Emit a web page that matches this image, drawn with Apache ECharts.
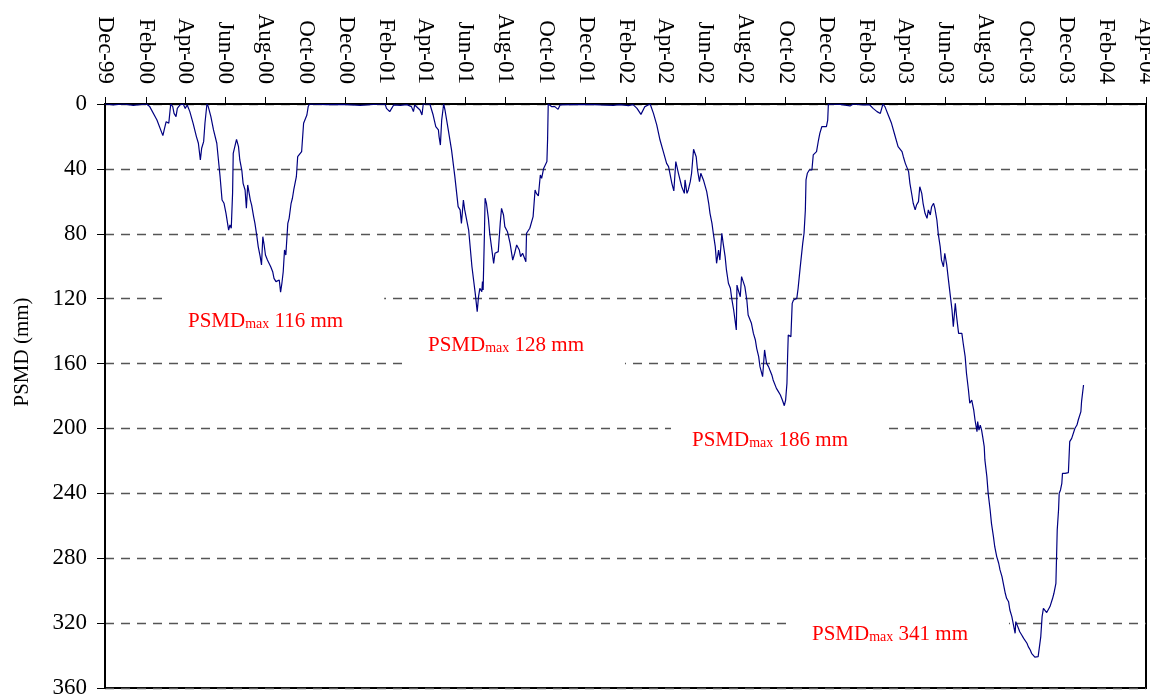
<!DOCTYPE html>
<html><head><meta charset="utf-8">
<script src="https://cdn.jsdelivr.net/npm/echarts@6/dist/echarts.min.js"></script>
<style>html,body{margin:0;padding:0;background:#fff}#c{width:1150px;height:699px}</style>
</head><body><div id="c"></div>
<script>
const dates = [
'1999-12-01','1999-12-14','1999-12-29','2000-01-13','2000-01-26','2000-02-02','2000-02-07','2000-02-18','2000-02-27','2000-02-29',
'2000-03-03','2000-03-05','2000-03-07','2000-03-09','2000-03-10','2000-03-13','2000-03-15','2000-03-18','2000-03-20','2000-03-24',
'2000-03-29','2000-04-01','2000-04-04','2000-04-08','2000-04-13','2000-04-18','2000-04-21','2000-04-24','2000-04-26','2000-04-29',
'2000-05-01','2000-05-04','2000-05-06','2000-05-10','2000-05-14','2000-05-19','2000-05-21','2000-05-24','2000-05-27','2000-05-30',
'2000-06-02','2000-06-06','2000-06-08','2000-06-10','2000-06-12','2000-06-13','2000-06-16','2000-06-18','2000-06-21','2000-06-23',
'2000-06-26','2000-06-28','2000-07-01','2000-07-03','2000-07-05','2000-07-07','2000-07-09','2000-07-11','2000-07-14','2000-07-16',
'2000-07-19','2000-07-21','2000-07-24','2000-07-26','2000-07-28','2000-07-30','2000-08-01','2000-08-04','2000-08-06','2000-08-09',
'2000-08-12','2000-08-14','2000-08-17','2000-08-19','2000-08-22','2000-08-24','2000-08-26','2000-08-28','2000-08-30','2000-09-01',
'2000-09-04','2000-09-06','2000-09-09','2000-09-11','2000-09-13','2000-09-17','2000-09-19','2000-09-22','2000-09-25','2000-09-28',
'2000-09-30','2000-10-03','2000-10-05','2000-10-07','2000-11-02','2000-11-27','2000-12-23','2001-01-12','2001-01-30','2001-02-01',
'2001-02-06','2001-02-12','2001-02-22','2001-03-04','2001-03-11','2001-03-14','2001-03-16','2001-03-24','2001-03-27','2001-03-29',
'2001-04-01','2001-04-08','2001-04-13','2001-04-17','2001-04-21','2001-04-22','2001-04-24','2001-04-26','2001-04-29','2001-05-01',
'2001-05-06','2001-05-11','2001-05-16','2001-05-21','2001-05-24','2001-05-26','2001-05-29','2001-05-31','2001-06-06','2001-06-11',
'2001-06-16','2001-06-19','2001-06-21','2001-06-23','2001-06-26','2001-06-27','2001-06-28','2001-06-30','2001-07-01','2001-07-03',
'2001-07-06','2001-07-08','2001-07-11','2001-07-14','2001-07-16','2001-07-19','2001-07-21','2001-07-24','2001-07-26','2001-07-29',
'2001-07-31','2001-08-02','2001-08-04','2001-08-08','2001-08-12','2001-08-15','2001-08-18','2001-08-22','2001-08-24','2001-08-27',
'2001-08-30','2001-09-01','2001-09-02','2001-09-05','2001-09-07','2001-09-10','2001-09-12','2001-09-15','2001-09-17','2001-09-20',
'2001-09-23','2001-09-25','2001-09-28','2001-09-30','2001-10-03','2001-10-04','2001-10-05','2001-10-10','2001-10-15','2001-10-20',
'2001-10-23','2001-11-12','2001-12-03','2001-12-23','2002-01-12','2002-01-22','2002-02-04','2002-02-11','2002-02-17','2002-02-23',
'2002-03-01','2002-03-09','2002-03-14','2002-03-19','2002-03-24','2002-03-29','2002-04-03','2002-04-06','2002-04-08','2002-04-11',
'2002-04-14','2002-04-17','2002-04-21','2002-04-26','2002-04-30','2002-05-01','2002-05-04','2002-05-06','2002-05-09','2002-05-11',
'2002-05-14','2002-05-18','2002-05-20','2002-05-23','2002-05-25','2002-05-29','2002-06-01','2002-06-03','2002-06-06','2002-06-08',
'2002-06-11','2002-06-13','2002-06-16','2002-06-18','2002-06-21','2002-06-23','2002-06-26','2002-06-28','2002-07-01','2002-07-03',
'2002-07-06','2002-07-09','2002-07-11','2002-07-14','2002-07-18','2002-07-19','2002-07-21','2002-07-24','2002-07-26','2002-07-29',
'2002-07-31','2002-08-03','2002-08-05','2002-08-08','2002-08-10','2002-08-13','2002-08-16','2002-08-18','2002-08-21','2002-08-23',
'2002-08-27','2002-08-30','2002-09-02','2002-09-05','2002-09-07','2002-09-10','2002-09-12','2002-09-15','2002-09-17','2002-09-20',
'2002-09-23','2002-09-26','2002-09-29','2002-10-01','2002-10-03','2002-10-04','2002-10-05','2002-10-08','2002-10-09','2002-10-11',
'2002-10-13','2002-10-15','2002-10-18','2002-10-20','2002-10-23','2002-10-26','2002-10-27','2002-10-29','2002-10-31','2002-11-01',
'2002-11-03','2002-11-06','2002-11-10','2002-11-12','2002-11-15','2002-11-17','2002-11-20','2002-11-22','2002-11-25','2002-11-27',
'2002-12-02','2002-12-04','2002-12-05','2002-12-23','2003-01-07','2003-01-12','2003-01-27','2003-02-06','2003-02-11','2003-02-17',
'2003-02-19','2003-02-22','2003-02-24','2003-02-26','2003-03-01','2003-03-06','2003-03-11','2003-03-16','2003-03-21','2003-03-24',
'2003-03-27','2003-03-29','2003-04-01','2003-04-03','2003-04-06','2003-04-08','2003-04-11','2003-04-13','2003-04-16','2003-04-18',
'2003-04-21','2003-04-23','2003-04-26','2003-04-28','2003-05-01','2003-05-04','2003-05-06','2003-05-09','2003-05-11','2003-05-14',
'2003-05-16','2003-05-19','2003-05-21','2003-05-24','2003-05-26','2003-05-29','2003-05-31','2003-06-03','2003-06-05','2003-06-08',
'2003-06-11','2003-06-13','2003-06-16','2003-06-18','2003-06-21','2003-06-23','2003-06-26','2003-06-28','2003-07-01','2003-07-03',
'2003-07-06','2003-07-08','2003-07-11','2003-07-14','2003-07-16','2003-07-19','2003-07-20','2003-07-22','2003-07-24','2003-07-26',
'2003-07-28','2003-07-30','2003-07-31','2003-08-03','2003-08-05','2003-08-08','2003-08-10','2003-08-13','2003-08-15','2003-08-18',
'2003-08-21','2003-08-23','2003-08-26','2003-08-28','2003-08-31','2003-09-02','2003-09-05','2003-09-07','2003-09-10','2003-09-12',
'2003-09-15','2003-09-16','2003-09-18','2003-09-20','2003-09-22','2003-09-25','2003-09-28','2003-09-30','2003-10-03','2003-10-05',
'2003-10-08','2003-10-10','2003-10-13','2003-10-15','2003-10-18','2003-10-20','2003-10-23','2003-10-24','2003-10-26','2003-10-28',
'2003-10-30','2003-11-02','2003-11-05','2003-11-07','2003-11-10','2003-11-11','2003-11-13','2003-11-15','2003-11-16','2003-11-17',
'2003-11-18','2003-11-20','2003-11-21','2003-11-23','2003-11-25','2003-11-26','2003-11-30','2003-12-05','2003-12-07','2003-12-10',
'2003-12-13','2003-12-15','2003-12-18','2003-12-20','2003-12-23','2003-12-24','2003-12-25','2003-12-28'
];
const psmd = [
0,0.5,0,0.8,0.3,0,1.6,9.9,19.5,16,
10.9,9.9,11.9,3.7,0,1.6,5.8,7.8,2.7,0.6,
0,2.7,0.6,4.7,11.9,20.1,24.2,34.5,27.3,23.2,
11.9,0,1.6,7.8,16,24.2,32.5,44.8,59.2,61.2,
67.4,77.7,74.6,76.6,55.1,30.4,31.4,21.8,26.3,34.5,
40.7,48.9,53,64.3,49.9,49.9,59.2,62.3,69.4,73.6,
81.8,87.9,94.1,99.2,81.8,86.9,93.1,96.2,97.2,100.3,
103.4,107.5,109.5,110.5,108.5,116,110.5,103.4,90,93.1,
73.6,70.5,61.2,58.1,53,44.8,32.5,31.4,29.4,11.9,
10.9,6.8,1.6,0,0.4,0.2,0.8,0.3,0,2.7,
4.7,0.6,0.8,0.4,1.6,4.7,0.6,3.7,6.8,0,
0.6,0,6.8,14,16,20.1,25.3,9.9,0,3.7,
16,28.4,44.8,63.3,65.3,73.6,59.2,65.3,77.7,100.3,
116.7,128,118.8,113.6,115.7,109.5,114.7,79.7,58.1,61.2,
70.5,79.7,89,98.2,92,91,91,73.6,64.3,68.4,
75.6,74.6,78.7,85.9,96.2,92,86.9,90,94.1,92,
95.1,97.2,79.7,78.7,76.6,75.6,69.4,53,55.1,56.7,
43.8,45.8,39.7,38.6,35.5,22.2,0,1.6,1.6,3.3,
0.6,0.4,0.2,0.6,0.8,0.4,1,0.4,2.7,6.4,
1.6,0,5.8,12.9,22.2,29.4,36.6,38.6,39.7,48.9,
53.6,35.5,42.7,51,55.1,46.8,55.1,53,47.9,42.7,
27.9,32.5,40.7,47.9,42.7,46.8,47.9,54,61.2,67.4,
73.6,79.7,87.9,98.2,90,96.2,79.7,85.9,94.1,102.3,
110.5,113.6,119.8,127,139.3,111.6,114.7,118.8,106.4,106.4,
112.6,120.8,130.1,131.1,135.2,141.4,145.5,150.6,155.7,161.9,
168.1,151.6,159.9,161.9,164,167,170.1,171.2,175.3,177.3,
179.4,182.5,186,182.5,172.2,155.7,142.4,143,143.4,122.9,
120.8,120.8,119.8,113.6,101.3,100.3,85.9,79.7,65.3,46.8,
42.7,40.7,40.7,31.4,30.4,29.4,22.2,18.1,14,13.6,
14,9.9,0,0.2,1.2,0,0.6,0.6,2.7,4.7,
5.8,5.8,6.8,0,1.6,6.8,11.9,19.1,26.3,25.3,
29.4,32.5,36.6,37.6,41.7,48.9,56.1,61.2,65.3,62.3,
60.2,51,55.1,61.2,67.4,70.5,65.3,68.4,63.3,61.2,
64.3,71.5,79.7,87.9,96.2,100.3,92,99.2,106.4,116.7,
127,137.3,122.9,131.1,141.4,142.4,141.4,147.5,155.7,166,
176.3,184.5,182.5,188.6,194.8,202,195.8,201,197.9,201,
206,211.2,219.4,229.7,240,250.3,258.5,266.7,272.9,279,
283.1,287.2,291.3,295.5,301.6,304.7,306.8,311.9,316,320.1,
326.3,319.1,321.1,323.2,325.3,327.3,329.4,330.4,332.4,334.5,
336.6,338.6,339.6,341,340.3,340.7,339.6,328.3,316,310.9,
311.9,313.5,312.9,309.8,308.8,304.7,301.6,300.6,295.5,279,
262.6,250.3,240,237.9,233.8,227.7,227.7,227.2,208.1,206.1,
205,199.9,197.9,194.8,194.8,189.6,183.5,173.2
];
const tickDates = ['1999-12-01','2000-02-01','2000-04-01','2000-06-01','2000-08-01','2000-10-01','2000-12-01',
'2001-02-01','2001-04-01','2001-06-01','2001-08-01','2001-10-01','2001-12-01','2002-02-01','2002-04-01',
'2002-06-01','2002-08-01','2002-10-01','2002-12-01','2003-02-01','2003-04-01','2003-06-01','2003-08-01',
'2003-10-01','2003-12-01','2004-02-01','2004-04-01'];
const tickLabels = ['Dec-99','Feb-00','Apr-00','Jun-00','Aug-00','Oct-00','Dec-00','Feb-01','Apr-01','Jun-01',
'Aug-01','Oct-01','Dec-01','Feb-02','Apr-02','Jun-02','Aug-02','Oct-02','Dec-02','Feb-03','Apr-03','Jun-03',
'Aug-03','Oct-03','Dec-03','Feb-04','Apr-04'];
const peakValues = [116, 128, 186, 341];
const yAxisName = 'PSMD (mm)';

const FONT = "'Times New Roman','Liberation Serif',serif";
const toTime = d => echarts.number.parseDate(d).getTime();
const tickTimes = tickDates.map(toTime);
const seriesData = dates.map((d, i) => [toTime(d), psmd[i]]);

// annotation layout (pixel anchors: text left, text centre y)
const annotPos = [[188, 321], [428, 345], [692, 440], [812, 634]];
const padL = 21, padR = 41, padV = 24;

const chart = echarts.init(document.getElementById('c'), null, {renderer: 'canvas'});
chart.setOption({
  animation: false,
  backgroundColor: '#fff',
  grid: {left: 105, right: 4, top: 104, bottom: 11, show: true, borderColor: '#000', borderWidth: 2,
         backgroundColor: 'transparent', containLabel: false, outerBoundsMode: 'none'},
  xAxis: {
    type: 'value', position: 'top', scale: true,
    min: tickTimes[0], max: tickTimes[tickTimes.length - 1],
    axisLine: {show: true, lineStyle: {color: '#000', width: 2}},
    axisTick: {show: true, inside: false, length: 7, customValues: tickTimes, lineStyle: {color: '#000', width: 1}},
    axisLabel: {
      customValues: tickTimes, rotate: -90, margin: 20,
      fontFamily: FONT, fontSize: 23, color: '#000',
      formatter: function (v) {
        let best = 0, bd = Infinity;
        tickTimes.forEach((t, i) => { const dd = Math.abs(t - v); if (dd < bd) { bd = dd; best = i; } });
        return tickLabels[best];
      }
    },
    splitLine: {show: false}
  },
  yAxis: {
    type: 'value', inverse: true, min: 0, max: 360, interval: 40,
    axisLine: {show: true, lineStyle: {color: '#000', width: 2}},
    axisTick: {show: true, inside: false, length: 8, lineStyle: {color: '#000', width: 1}},
    axisLabel: {fontFamily: FONT, fontSize: 23, color: '#000', margin: 18},
    splitLine: {show: true, lineStyle: {color: '#555', width: 1.4, type: [9, 7]}}
  },
  graphic: [
    {type: 'text', x: 22, y: 352, rotation: Math.PI / 2, z: 5,
     style: {text: yAxisName, fontFamily: FONT, fontSize: 21, fill: '#000', align: 'center', verticalAlign: 'middle'}}
  ].concat(peakValues.map((v, i) => ({
    type: 'text', x: annotPos[i][0] - padL, y: annotPos[i][1], z: 5,
    style: {
      text: 'PSMD{s|max} ' + v + ' mm',
      fontFamily: FONT, fontSize: 21, fill: '#ff0000',
      align: 'left', verticalAlign: 'middle',
      backgroundColor: '#fff', padding: [padV, padR, padV, padL],
      rich: {s: {fontFamily: FONT, fontSize: 14, fill: '#ff0000', verticalAlign: 'bottom', padding: [6, 0, 0, 0]}}
    }
  }))),
  series: [{
    type: 'line', data: seriesData, showSymbol: false, z: 10,
    lineStyle: {color: '#000080', width: 1.2}, itemStyle: {color: '#000080'}
  }]
});
</script>
</body></html>
